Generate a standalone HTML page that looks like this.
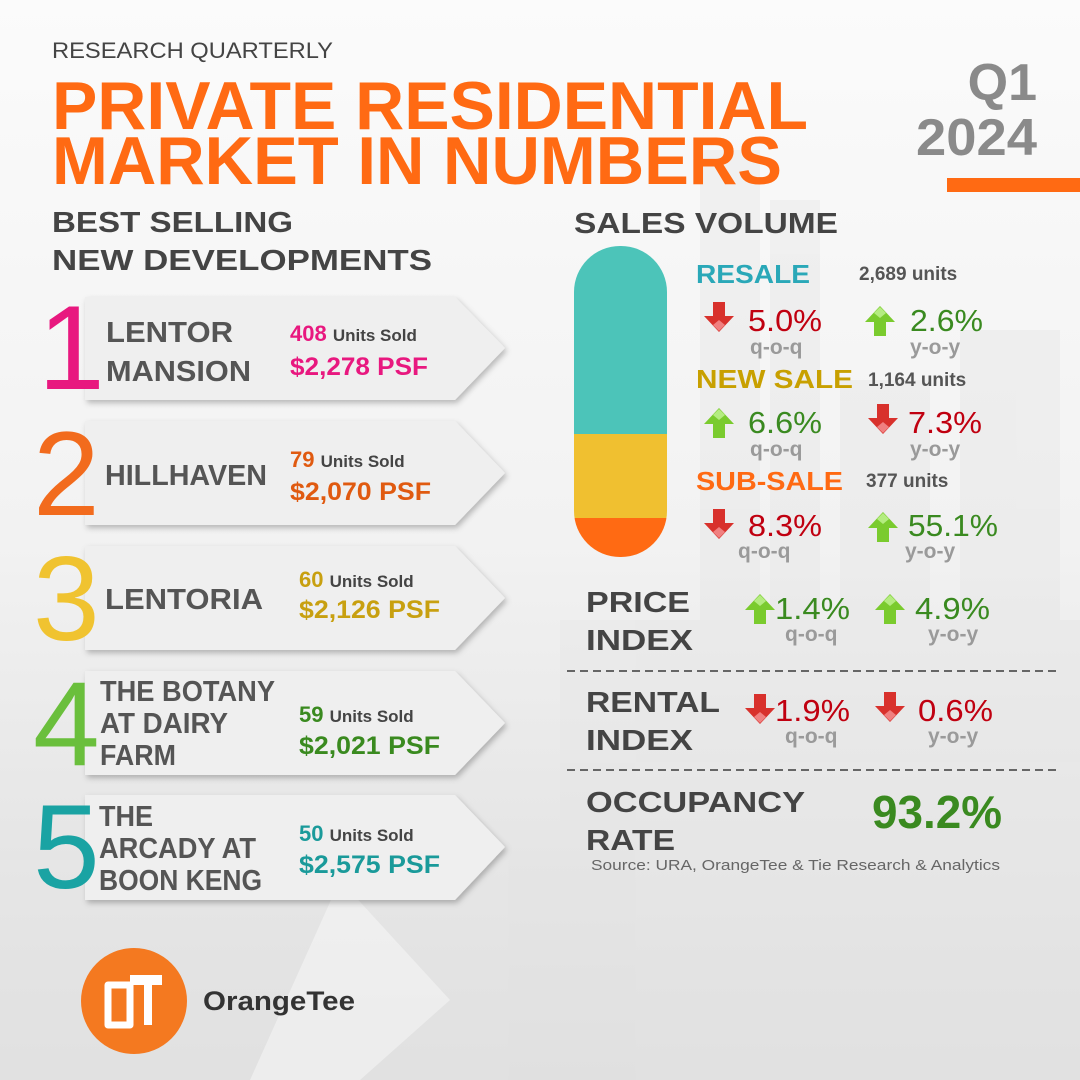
<!DOCTYPE html>
<html><head><meta charset="utf-8"><style>html,body{margin:0;padding:0}svg{display:block}</style></head>
<body>
<svg width="1080" height="1080" viewBox="0 0 1080 1080" xmlns="http://www.w3.org/2000/svg" font-family="Liberation Sans, Arial, sans-serif">
<defs>
<linearGradient id="bg" x1="0" y1="0" x2="0" y2="1">
<stop offset="0" stop-color="#fbfbfb"/><stop offset="0.5" stop-color="#f2f2f2"/><stop offset="1" stop-color="#dcdcdc"/>
</linearGradient>
<filter id="sh" x="-10%" y="-10%" width="120%" height="130%"><feDropShadow dx="2" dy="3" stdDeviation="3" flood-color="#000" flood-opacity="0.25"/></filter>
<g id="dn"><path d="M-6,-16 h12 v14 h9 l-15,16 l-15,-16 h9 z" fill="#d8312c"/><path d="M0,13 l-6,-6 l6,-5 l6,5z" fill="#f08080"/></g>
<g id="up"><path d="M-6,16 h12 v-14 h9 l-15,-16 l-15,16 h9 z" fill="#7acb2e"/><path d="M0,-13 l-6,6 l6,5 l6,-5z" fill="#b4ec80"/></g>
<clipPath id="cap"><rect x="574" y="246" width="93" height="311" rx="46"/></clipPath>
</defs>
<rect width="1080" height="1080" fill="url(#bg)"/>
<g fill="#e6e6e6" opacity="0.45">
<rect x="700" y="150" width="60" height="500"/><rect x="770" y="200" width="50" height="450"/>
<rect x="840" y="380" width="90" height="300"/><rect x="960" y="330" width="100" height="400"/>
<rect x="560" y="620" width="520" height="460"/><rect x="0" y="860" width="560" height="220"/>
</g>
<path d="M340,880 L450,1000 L360,1080 L250,1080Z" fill="#ffffff" opacity="0.4"/>

<text x="52" y="58" font-size="22" fill="#444" textLength="281" lengthAdjust="spacingAndGlyphs">RESEARCH QUARTERLY</text>
<text x="52" y="129" font-size="68" font-weight="bold" fill="#ff6a13" textLength="756" lengthAdjust="spacingAndGlyphs">PRIVATE RESIDENTIAL</text>
<text x="52" y="184" font-size="68" font-weight="bold" fill="#ff6a13" textLength="730" lengthAdjust="spacingAndGlyphs">MARKET IN NUMBERS</text>
<text x="1037" y="100" font-size="52" font-weight="bold" fill="#8a8a8a" text-anchor="end">Q1</text>
<text x="1037" y="155" font-size="52" font-weight="bold" fill="#8a8a8a" text-anchor="end" textLength="121" lengthAdjust="spacingAndGlyphs">2024</text>
<rect x="947" y="178" width="133" height="14" fill="#ff6a13"/>

<text x="52" y="232" font-size="29" font-weight="bold" fill="#444" textLength="241" lengthAdjust="spacingAndGlyphs">BEST SELLING</text>
<text x="52" y="270" font-size="29" font-weight="bold" fill="#444" textLength="380" lengthAdjust="spacingAndGlyphs">NEW DEVELOPMENTS</text>
<text x="574" y="233" font-size="29" font-weight="bold" fill="#444" textLength="264" lengthAdjust="spacingAndGlyphs">SALES VOLUME</text>

<g fill="#efefef" filter="url(#sh)">
<path d="M85,297 H455 L505,348 L455,400 H85Z"/>
<path d="M85,421 H455 L505,473 L455,525 H85Z"/>
<path d="M85,546 H455 L505,598 L455,650 H85Z"/>
<path d="M85,671 H455 L505,723 L455,775 H85Z"/>
<path d="M85,795 H455 L505,847 L455,900 H85Z"/>
</g>
<g font-size="120" font-family="Liberation Sans, Arial, sans-serif">
<text x="38" y="389" fill="#e8187f">1</text>
<text x="33" y="515" fill="#f26b1d">2</text>
<text x="33" y="640" fill="#f0c330">3</text>
<text x="33" y="765" fill="#6abf3c">4</text>
<text x="33" y="888" fill="#1aa3a3">5</text>
</g>
<g font-size="29" font-weight="bold" fill="#555">
<text x="106" y="342" textLength="127" lengthAdjust="spacingAndGlyphs">LENTOR</text>
<text x="106" y="381" textLength="145" lengthAdjust="spacingAndGlyphs">MANSION</text>
<text x="105" y="485" textLength="162" lengthAdjust="spacingAndGlyphs">HILLHAVEN</text>
<text x="105" y="609" textLength="158" lengthAdjust="spacingAndGlyphs">LENTORIA</text>
<text x="100" y="701" textLength="175" lengthAdjust="spacingAndGlyphs">THE BOTANY</text>
<text x="100" y="733" textLength="128" lengthAdjust="spacingAndGlyphs">AT DAIRY</text>
<text x="100" y="765" textLength="76" lengthAdjust="spacingAndGlyphs">FARM</text>
<text x="99" y="826" textLength="54" lengthAdjust="spacingAndGlyphs">THE</text>
<text x="99" y="858" textLength="157" lengthAdjust="spacingAndGlyphs">ARCADY AT</text>
<text x="99" y="890" textLength="163" lengthAdjust="spacingAndGlyphs">BOON KENG</text>
</g>
<g font-weight="bold">
<text x="290" y="341" font-size="22" fill="#e8187f">408 <tspan font-size="17" fill="#444">Units Sold</tspan></text>
<text x="290" y="375" font-size="25" fill="#e8187f" textLength="138" lengthAdjust="spacingAndGlyphs">$2,278 PSF</text>
<text x="290" y="467" font-size="22" fill="#e05a10">79 <tspan font-size="17" fill="#444">Units Sold</tspan></text>
<text x="290" y="500" font-size="25" fill="#e05a10" textLength="141" lengthAdjust="spacingAndGlyphs">$2,070 PSF</text>
<text x="299" y="587" font-size="22" fill="#c8a010">60 <tspan font-size="17" fill="#444">Units Sold</tspan></text>
<text x="299" y="618" font-size="25" fill="#c8a010" textLength="141" lengthAdjust="spacingAndGlyphs">$2,126 PSF</text>
<text x="299" y="722" font-size="22" fill="#3a8a1f">59 <tspan font-size="17" fill="#444">Units Sold</tspan></text>
<text x="299" y="754" font-size="25" fill="#3a8a1f" textLength="141" lengthAdjust="spacingAndGlyphs">$2,021 PSF</text>
<text x="299" y="841" font-size="22" fill="#1a9a9a">50 <tspan font-size="17" fill="#444">Units Sold</tspan></text>
<text x="299" y="873" font-size="25" fill="#1a9a9a" textLength="141" lengthAdjust="spacingAndGlyphs">$2,575 PSF</text>
</g>

<g clip-path="url(#cap)">
<rect x="574" y="246" width="93" height="188" fill="#4cc4b9"/>
<rect x="574" y="434" width="93" height="84" fill="#f0c030"/>
<rect x="574" y="518" width="93" height="40" fill="#ff6a13"/>
</g>

<g font-weight="bold">
<text x="696" y="283" font-size="26" fill="#2aa8b8" textLength="114" lengthAdjust="spacingAndGlyphs">RESALE</text>
<text x="859" y="280" font-size="19" fill="#555">2,689 units</text>
<text x="696" y="388" font-size="26" fill="#c8a000" textLength="157" lengthAdjust="spacingAndGlyphs">NEW SALE</text>
<text x="868" y="386" font-size="19" fill="#555">1,164 units</text>
<text x="696" y="490" font-size="26" fill="#ff6a13" textLength="147" lengthAdjust="spacingAndGlyphs">SUB-SALE</text>
<text x="866" y="487" font-size="19" fill="#555">377 units</text>
</g>
<use href="#dn" x="719" y="318"/><use href="#up" x="880" y="320"/>
<use href="#up" x="719" y="422"/><use href="#dn" x="883" y="420"/>
<use href="#dn" x="719" y="525"/><use href="#up" x="883" y="526"/>
<use href="#up" x="760" y="608"/><use href="#up" x="890" y="608"/>
<use href="#dn" x="760" y="710"/><use href="#dn" x="890" y="708"/>
<g font-size="31">
<text x="748" y="331" fill="#c00010" textLength="74" lengthAdjust="spacingAndGlyphs">5.0%</text>
<text x="910" y="331" fill="#3a8a20" textLength="73" lengthAdjust="spacingAndGlyphs">2.6%</text>
<text x="748" y="433" fill="#3a8a20" textLength="74" lengthAdjust="spacingAndGlyphs">6.6%</text>
<text x="908" y="433" fill="#c00010" textLength="74" lengthAdjust="spacingAndGlyphs">7.3%</text>
<text x="748" y="536" fill="#c00010" textLength="74" lengthAdjust="spacingAndGlyphs">8.3%</text>
<text x="908" y="536" fill="#3a8a20" textLength="90" lengthAdjust="spacingAndGlyphs">55.1%</text>
<text x="775" y="619" fill="#3a8a20" textLength="75" lengthAdjust="spacingAndGlyphs">1.4%</text>
<text x="915" y="619" fill="#3a8a20" textLength="75" lengthAdjust="spacingAndGlyphs">4.9%</text>
<text x="775" y="721" fill="#c00010" textLength="75" lengthAdjust="spacingAndGlyphs">1.9%</text>
<text x="918" y="721" fill="#c00010" textLength="75" lengthAdjust="spacingAndGlyphs">0.6%</text>
</g>
<g font-size="21" fill="#9a9a9a" font-weight="bold">
<text x="750" y="354">q-o-q</text><text x="910" y="354">y-o-y</text>
<text x="750" y="456">q-o-q</text><text x="910" y="456">y-o-y</text>
<text x="738" y="558">q-o-q</text><text x="905" y="558">y-o-y</text>
<text x="785" y="641">q-o-q</text><text x="928" y="641">y-o-y</text>
<text x="785" y="743">q-o-q</text><text x="928" y="743">y-o-y</text>
</g>
<g font-size="29" font-weight="bold" fill="#444">
<text x="586" y="612" textLength="104" lengthAdjust="spacingAndGlyphs">PRICE</text>
<text x="586" y="650" textLength="107" lengthAdjust="spacingAndGlyphs">INDEX</text>
<text x="586" y="712" textLength="134" lengthAdjust="spacingAndGlyphs">RENTAL</text>
<text x="586" y="750" textLength="107" lengthAdjust="spacingAndGlyphs">INDEX</text>
<text x="586" y="812" textLength="219" lengthAdjust="spacingAndGlyphs">OCCUPANCY</text>
<text x="586" y="850" textLength="89" lengthAdjust="spacingAndGlyphs">RATE</text>
</g>
<line x1="567" y1="671" x2="1060" y2="671" stroke="#666" stroke-width="2" stroke-dasharray="8,5"/>
<line x1="567" y1="770" x2="1060" y2="770" stroke="#666" stroke-width="2" stroke-dasharray="8,5"/>
<text x="872" y="828" font-size="46" font-weight="bold" fill="#3a8a20" textLength="130" lengthAdjust="spacingAndGlyphs">93.2%</text>
<text x="591" y="870" font-size="15" fill="#666" textLength="409" lengthAdjust="spacingAndGlyphs">Source: URA, OrangeTee &amp; Tie Research &amp; Analytics</text>

<circle cx="134" cy="1001" r="53" fill="#f47920"/>
<path d="M108,985 h22 v40 h-22 z" fill="none" stroke="#fff" stroke-width="7" stroke-linejoin="round"/>
<path d="M130,975 h32 v10 h-10 v40 h-8 v-40 h-14z" fill="#fff"/>
<text x="203" y="1010" font-size="27" font-weight="bold" fill="#333" textLength="152" lengthAdjust="spacingAndGlyphs">OrangeTee</text>
</svg>
</body></html>
